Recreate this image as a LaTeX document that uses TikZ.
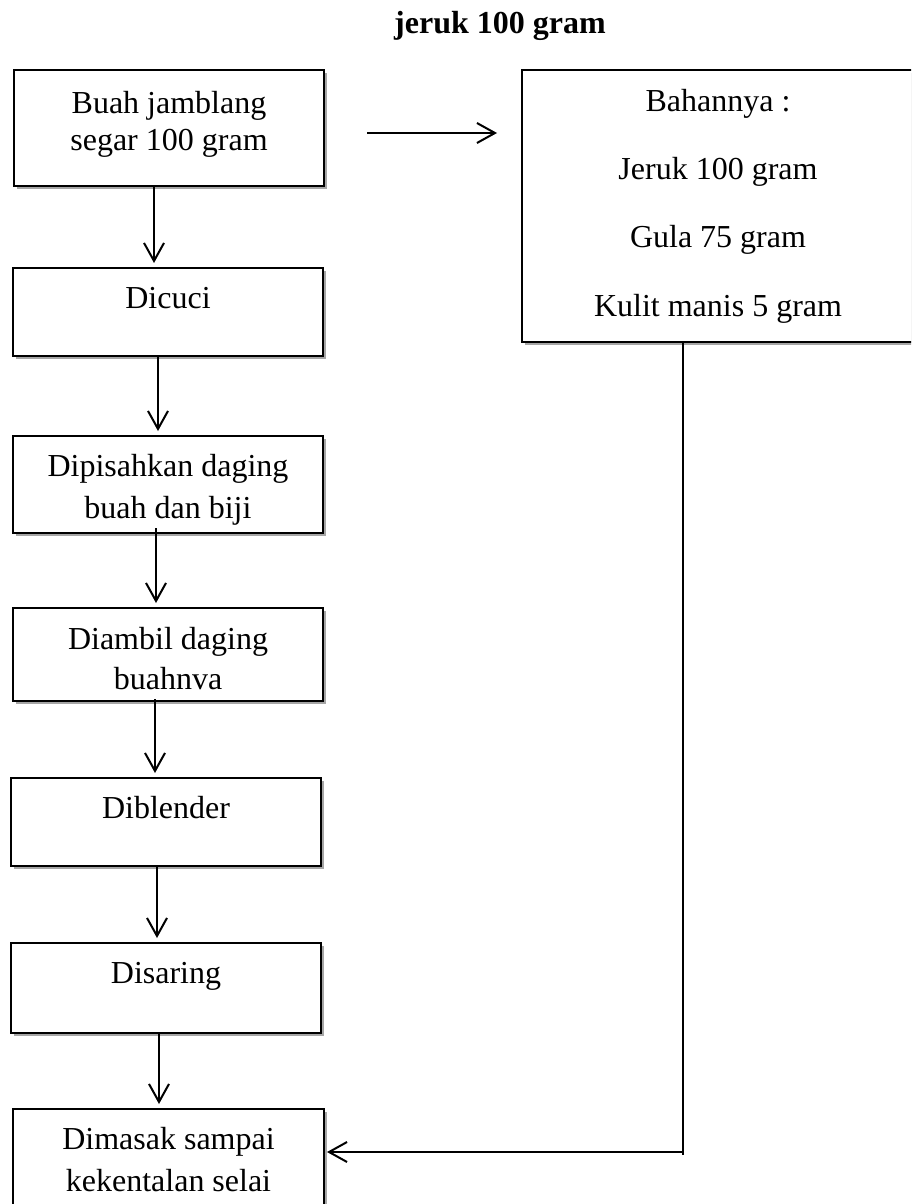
\documentclass[tikz,border=0pt]{standalone}
\usepackage{fontspec}
\setmainfont{Liberation Serif}
\usetikzlibrary{arrows.meta,shadows}
\newcommand\mybx[5]{\parbox[c][#2][t]{#1}{\centering\fontsize{16}{#4}\selectfont\rule{0pt}{#3}#5}}
\tikzset{
  stepbox/.style={draw, line width=1pt, fill=white, inner sep=0pt, anchor=north west,
    drop shadow={shadow xshift=1.6pt, shadow yshift=-1.6pt, fill=black!35, opacity=1}},
  arr/.style={line width=1pt, -{Straight Barb[length=9pt,width=10pt,line width=1pt]}, shorten >=2pt},
  thinline/.style={line width=0.6pt}
}
\begin{document}
\begin{tikzpicture}[x=0.5pt,y=-0.5pt]
\clip (0,0) rectangle (911,1204);
\fill[white] (0,0) rectangle (911,1204);
\node[anchor=base, font=\fontsize{16}{19}\selectfont\bfseries] (title) at (500,34) {jeruk 100 gram};
\node[stepbox] (b1) at (13,69) {\mybx{155pt}{58pt}{22pt}{18.5pt}{Buah jamblang\\segar 100 gram}};
\node[stepbox] (b2) at (12,267) {\mybx{155pt}{44pt}{20pt}{20pt}{Dicuci}};
\node[stepbox] (b3) at (12,435) {\mybx{155pt}{48.5pt}{20pt}{21pt}{Dipisahkan daging\\buah dan biji}};
\node[stepbox] (b4) at (12,607) {\mybx{155pt}{46.5pt}{20.5pt}{20pt}{Diambil daging\\buahnva}};
\node[stepbox] (b5) at (10,777) {\mybx{155pt}{44pt}{20pt}{20pt}{Diblender}};
\node[stepbox] (b6) at (10,942) {\mybx{155pt}{45pt}{20pt}{20pt}{Disaring}};
\node[stepbox] (b7) at (12,1108) {\mybx{155.5pt}{65pt}{20pt}{21pt}{Dimasak sampai\\kekentalan selai}};
\node[stepbox] (r) at (521,69) {\mybx{196pt}{136pt}{20.5pt}{34.2pt}{Bahannya :\\Jeruk 100 gram\\Gula 75 gram\\Kulit manis 5 gram}};
\draw[arr] ([xshift=-7.5pt]b1.south) coordinate (s1) -- (s1 |- b2.north);
\draw[arr] ([xshift=-5pt]b2.south) coordinate (s2) -- (s2 |- b3.north);
\draw[arr, shorten <=-3pt] ([xshift=-6pt]b3.south) coordinate (s3) -- (s3 |- b4.north);
\draw[arr, shorten <=-1.5pt] ([xshift=-6.5pt]b4.south) coordinate (s4) -- (s4 |- b5.north);
\draw[arr] ([xshift=-4.5pt]b5.south) coordinate (s5) -- (s5 |- b6.north);
\draw[arr] ([xshift=-3.5pt]b6.south) coordinate (s6) -- (s6 |- b7.north);
\coordinate (t0) at (367,133);
\coordinate (t1) at (497,133);
\draw[arr, shorten >=0pt] (t0) -- (t1);
\coordinate (c) at (683,1152);
\coordinate (cb) at (683,1155);
\draw[thinline] (r.south -| c) -- (cb);
\draw[arr, shorten >=1pt] (c) -- (b7.east |- c);
\end{tikzpicture}
\end{document}
